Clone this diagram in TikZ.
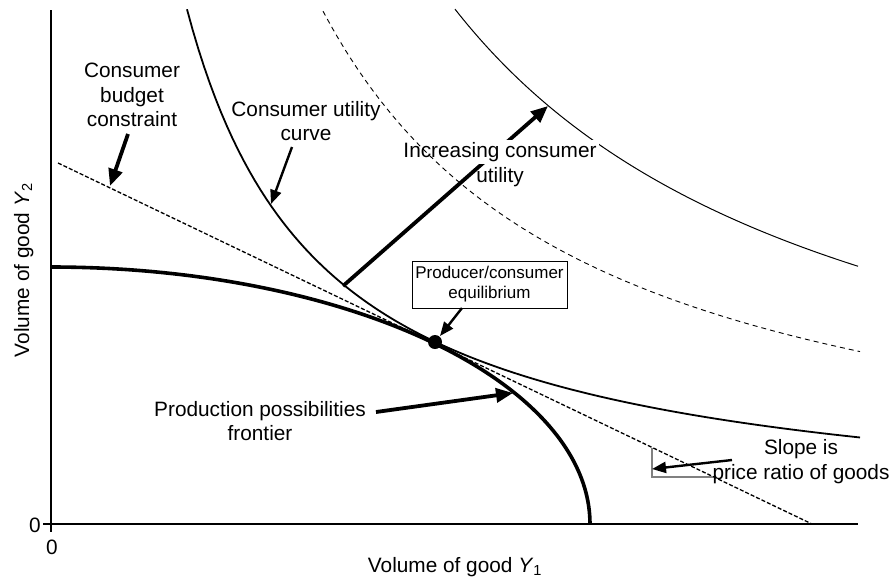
\documentclass[tikz,border=0pt]{standalone}
\usepackage{fontspec}
\setmainfont{Liberation Sans}
\usetikzlibrary{arrows.meta}
\begin{document}
\begin{tikzpicture}[x=1pt,y=-1pt,
  lbl/.style={align=center, font=\fontsize{20.8}{24.8}\selectfont, inner sep=0pt},
  boxlbl/.style={draw, line width=1pt, align=center, font=\fontsize{17}{20}\selectfont, minimum width=155pt, minimum height=47pt, inner sep=0pt},
  axisline/.style={line width=1.4pt},
  utilcurve/.style={line width=1.8pt},
  thincurve/.style={line width=1pt},
  dashcurve/.style={line width=0.9pt, dash pattern=on 5pt off 4pt},
  budgetline/.style={line width=1.3pt, dash pattern=on 4pt off 2pt},
  ppf/.style={line width=3.6pt, line join=round},
  bigarrow/.style={line width=3.8pt, -{Triangle[length=17pt,width=14pt]}},
  medarrow/.style={line width=2.4pt, -{Triangle[length=14pt,width=11pt]}},
  slopetri/.style={line width=1.3pt, draw=black!50}
]
\useasboundingbox (0,0) rectangle (894,579);

% axes
\coordinate (O) at (51,524);
\coordinate (ytop) at (51,10);
\coordinate (xend) at (858,524);
\coordinate (ytick) at (43,524);
\coordinate (xtick) at (51,532);
\draw[axisline] (ytop) -- (O) -- (xend);
\draw[axisline] (ytick) -- (O) -- (xtick);
\node[lbl] (zeroy) at (35,525) {0};
\node[lbl] (zerox) at (52,547) {0};
\node[lbl, anchor=base] (xlab) at (455,572) {Volume of good \textit{Y}\textsubscript{1}};
\node[lbl, rotate=90, anchor=base] (ylab) at (29,270) {Volume of good \textit{Y}\textsubscript{2}};

% indifference curves
\draw[utilcurve] plot[domain=187:860, samples=120] (\x, {524-700/((\x-51)/100)});
\draw[thincurve] plot[domain=455:858, samples=100] (\x, {524-2080/((\x-51)/100)});

% budget line
\coordinate (b1) at (58,163);
\coordinate (b2) at (812,524);
\draw[budgetline] (b1) -- (b2);

% production possibilities frontier
\draw[ppf] plot[domain=0:90, samples=90] ({51+539*cos(\x)}, {524-257*sin(\x)});

% slope triangle
\coordinate (s1) at (652,448);
\coordinate (s2) at (652,477);
\coordinate (s3) at (713,477);
\draw[slopetri] (s1) -- (s2) -- (s3);

% equilibrium
\node[circle, fill=black, inner sep=0pt, minimum size=14pt] (eq) at (435,342) {};
\node[boxlbl] (eqbox) at (489.5,284.5) {Producer/consumer\\equilibrium};
\coordinate (eqtail) at (462,308);
\coordinate (eqtip) at (440,336);
\draw[medarrow] (eqtail) -- (eqtip);

% labels and arrows
\node[lbl] (budgetlbl) at (132,95) {Consumer\\budget\\constraint};
\coordinate (btail) at (128,134);
\coordinate (btip) at (110,186);
\draw[bigarrow] (btail) -- (btip);

\node[lbl] (utillbl) at (306,121) {Consumer utility\\curve};
\coordinate (utail) at (292,147);
\coordinate (utip) at (271,204);
\draw[medarrow] (utail) -- (utip);

\coordinate (itail) at (343,286);
\coordinate (itip) at (548,106);
\draw[bigarrow] (itail) -- (itip);
\node[lbl, fill=white, inner sep=2.5pt] (inclbl) at (500,152) {Increasing consumer};
\node[lbl] (inclbl2) at (500,177) {utility};

\draw[dashcurve] plot[domain=323:860, samples=120] (\x, {524-1395/((\x-51)/100)});

\node[lbl] (ppflbl) at (260,421) {Production possibilities\\frontier};
\coordinate (ptail) at (376,412);
\coordinate (ptip) at (513,393);
\draw[bigarrow] (ptail) -- (ptip);

\node[lbl] (slopelbl) at (801,462) {Slope is\\price ratio of goods};
\coordinate (stail) at (732,460);
\coordinate (stip) at (652,469);
\draw[medarrow] (stail) -- (stip);
\end{tikzpicture}
\end{document}
